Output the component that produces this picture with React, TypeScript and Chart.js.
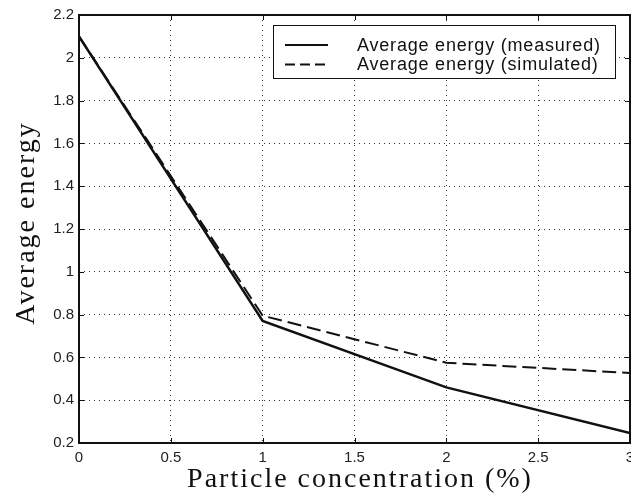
import React, { useEffect, useRef } from "react";
import { Chart, registerables } from "chart.js";

Chart.register(...registerables);

const concentration = [0, 1, 2, 3];
const measured = [2.1, 0.77, 0.46, 0.247];
const simulated = [2.1, 0.795, 0.575, 0.527];
const seriesNames = ["Average energy (measured)", "Average energy (simulated)"];
const xTicks = [0, 0.5, 1, 1.5, 2, 2.5, 3];
const xTickLabels = ["0", "0.5", "1", "1.5", "2", "2.5", "3"];
const yTicks = [0.2, 0.4, 0.6, 0.8, 1, 1.2, 1.4, 1.6, 1.8, 2, 2.2];
const yTickLabels = ["0.2", "0.4", "0.6", "0.8", "1", "1.2", "1.4", "1.6", "1.8", "2", "2.2"];
const xTitle = "Particle concentration (%)";
const yTitle = "Average energy";

const W = 631;
const H = 497;

const decor = {
  id: "decor",
  afterDatasetsDraw(chart: any) {
    const { ctx, chartArea: a, scales } = chart;
    const xs = scales.x;
    const ys = scales.y;
    ctx.save();
    // frame
    ctx.strokeStyle = "#111";
    ctx.lineWidth = 2;
    ctx.strokeRect(a.left, a.top, a.right - a.left, a.bottom - a.top);
    // inward ticks
    ctx.lineWidth = 1;
    ctx.beginPath();
    xTicks.forEach((v) => {
      const px = Math.round(xs.getPixelForValue(v)) + 0.5;
      ctx.moveTo(px, a.bottom);
      ctx.lineTo(px, a.bottom - 5);
      ctx.moveTo(px, a.top);
      ctx.lineTo(px, a.top + 5);
    });
    yTicks.forEach((v) => {
      const py = Math.round(ys.getPixelForValue(v)) + 0.5;
      ctx.moveTo(a.left, py);
      ctx.lineTo(a.left + 5, py);
      ctx.moveTo(a.right, py);
      ctx.lineTo(a.right - 5, py);
    });
    ctx.stroke();

    // legend
    const lx = 273.5, ly = 25.5, lw = 342, lh = 53;
    ctx.fillStyle = "#fff";
    ctx.fillRect(lx, ly, lw, lh);
    ctx.strokeStyle = "#111";
    ctx.lineWidth = 1;
    ctx.strokeRect(lx, ly, lw, lh);
    const rows = [45, 64.5];
    ctx.lineWidth = 2;
    rows.forEach((ry, i) => {
      ctx.setLineDash(i === 0 ? [] : [10, 5]);
      ctx.beginPath();
      ctx.moveTo(285, ry);
      ctx.lineTo(328, ry);
      ctx.stroke();
    });
    ctx.setLineDash([]);
    ctx.fillStyle = "#111";
    ctx.font = '18px "Liberation Sans", Arial, sans-serif';
    (ctx as any).letterSpacing = "0.8px";
    ctx.textAlign = "left";
    ctx.textBaseline = "middle";
    rows.forEach((ry, i) => {
      ctx.fillText(seriesNames[i], 357, ry + 1);
    });

    // titles
    ctx.font = '28px "Liberation Serif", "Times New Roman", serif';
    (ctx as any).letterSpacing = "2px";
    ctx.textAlign = "center";
    ctx.textBaseline = "alphabetic";
    ctx.fillText(xTitle, 360, 487);
    ctx.translate(34, 223);
    ctx.rotate(-Math.PI / 2);
    ctx.fillText(yTitle, 0, 0);
    (ctx as any).letterSpacing = "0px";
    ctx.restore();
  },
};

export default function App() {
  const ref = useRef<HTMLCanvasElement | null>(null);
  useEffect(() => {
    if (!ref.current) return;
    const tickFont = { family: '"Liberation Sans", Arial, sans-serif', size: 15 };
    const chart = new Chart(ref.current, {
      type: "line",
      data: {
        datasets: [
          {
            label: seriesNames[0],
            data: concentration.map((x, i) => ({ x, y: measured[i] })),
            borderColor: "#111",
            borderWidth: 2.5,
            pointRadius: 0,
            fill: false,
            tension: 0,
          },
          {
            label: seriesNames[1],
            data: concentration.map((x, i) => ({ x, y: simulated[i] })),
            borderColor: "#111",
            borderWidth: 2,
            borderDash: [14, 6],
            pointRadius: 0,
            fill: false,
            tension: 0,
          },
        ],
      },
      options: {
        responsive: false,
        animation: false,
        devicePixelRatio: 1,
        layout: { padding: { top: 15, right: 1, bottom: 0, left: 0 } },
        plugins: { legend: { display: false }, tooltip: { enabled: false } },
        scales: {
          x: {
            type: "linear",
            min: 0,
            max: 3,
            afterBuildTicks: (s: any) => {
              s.ticks = xTicks.map((v) => ({ value: v }));
            },
            afterFit: (s: any) => {
              s.height = 54;
              s.paddingLeft = 0;
              s.paddingRight = 0;
            },
            ticks: {
              autoSkip: false,
              maxRotation: 0,
              padding: 6,
              color: "#222",
              font: tickFont,
              callback: (_v: any, i: number) => xTickLabels[i],
            },
            grid: { color: "#333", lineWidth: 1, drawTicks: false },
            border: { display: false, dash: [1, 4] },
          },
          y: {
            type: "linear",
            min: 0.2,
            max: 2.2,
            afterBuildTicks: (s: any) => {
              s.ticks = yTicks.map((v) => ({ value: v }));
            },
            afterFit: (s: any) => {
              s.width = 79;
              s.paddingTop = 0;
              s.paddingBottom = 0;
            },
            ticks: {
              autoSkip: false,
              padding: 5,
              color: "#222",
              font: tickFont,
              callback: (_v: any, i: number) => yTickLabels[i],
            },
            grid: { color: "#333", lineWidth: 1, drawTicks: false },
            border: { display: false, dash: [1, 4] },
          },
        },
      },
      plugins: [decor],
    });
    return () => chart.destroy();
  }, []);
  return (
    <div style={{ position: "fixed", left: 0, top: 0, width: W, height: H, background: "#fff" }}>
      <canvas ref={ref} width={W} height={H} style={{ display: "block" }} />
    </div>
  );
}
